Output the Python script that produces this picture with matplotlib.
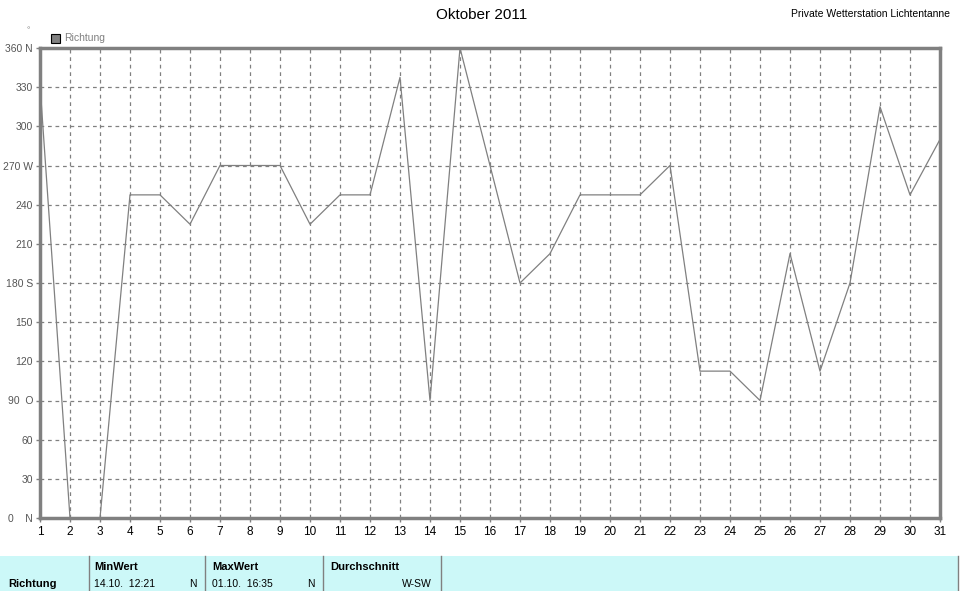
import matplotlib
matplotlib.use("Agg")
import matplotlib.pyplot as plt
import numpy as np

plt.rcParams["font.family"] = ["Liberation Sans", "DejaVu Sans"]

# Daten Oktober 2011 - Windrichtung in Grad
tage = np.arange(1, 32)
richtung = [332, 0, 0, 247.5, 247.5, 225, 270, 270, 270, 225,
            247.5, 247.5, 337.5, 90, 360, 270, 180, 202.5, 247.5, 247.5,
            247.5, 270, 112.5, 112.5, 90, 202.5, 112.5, 180, 315, 247.5, 290]

y_ticks = [0, 30, 60, 90, 120, 150, 180, 210, 240, 270, 300, 330, 360]
y_labels = ["0    N", "30", "60", "90  O", "120", "150", "180 S", "210", "240",
            "270 W", "300", "330", "360 N"]

tabelle_kopf = ["MinWert", "MaxWert", "Durchschnitt"]
tabelle_zeit = ["14.10.  12:21", "01.10.  16:35", ""]
tabelle_wert = ["N", "N", "W-SW"]

grau = "#808080"
W, H = 960, 591

fig = plt.figure(figsize=(9.6, 5.91), dpi=100)
ax = fig.add_axes([40 / W, (H - 518) / H, 900 / W, 470 / H])

ax.plot(tage, richtung, color=grau, lw=0.9)
ax.set_xlim(1, 31)
ax.set_ylim(0, 360)
ax.set_xticks(tage)
ax.set_yticks(y_ticks)
ax.set_yticklabels(y_labels)
ax.tick_params(axis="both", labelsize=7.5, length=3, width=1, pad=2, color=grau)
ax.tick_params(axis="y", labelcolor="#555555")
ax.tick_params(axis="x", labelsize=8.5, pad=3)
ax.grid(True, color=grau, ls=(0, (3, 3)), lw=0.9)
for s in ax.spines.values():
    s.set_color(grau)
    s.set_linewidth(2.5)

fig.text(482 / W, 1 - 15 / H, "Oktober 2011", ha="center", va="center", fontsize=11)
fig.text(950 / W, 1 - 14 / H, "Private Wetterstation Lichtentanne", ha="right",
         va="center", fontsize=7.5)
fig.text(28 / W, 1 - 31 / H, "°", ha="center", va="center", fontsize=6, color=grau)

# Legende
fig.patches.append(plt.Rectangle((51 / W, 1 - 43 / H), 9 / W, 9 / H, transform=fig.transFigure,
                                 facecolor=grau, edgecolor="black", lw=0.8))
fig.text(64 / W, 1 - 38 / H, "Richtung", ha="left", va="center", fontsize=7.5, color=grau)

# Tabelle unten
fig.patches.append(plt.Rectangle((0, 0), 958 / W, (H - 556) / H, transform=fig.transFigure,
                                 facecolor="#ccf8f8", edgecolor="none"))
for xp in [89, 205, 323, 441, 958]:
    fig.add_artist(plt.Line2D([xp / W, xp / W], [0, (H - 556) / H], color=grau, lw=1))
fig.text(8 / W, 1 - 584 / H, "Richtung", ha="left", va="center", fontsize=8, weight="bold")
x0 = [94, 212, 330]
x1 = [197, 315, 432]
for i in range(3):
    fig.text(x0[i] / W, 1 - 567 / H, tabelle_kopf[i], ha="left", va="center",
             fontsize=8, weight="bold")
    fig.text(x0[i] / W, 1 - 584 / H, tabelle_zeit[i], ha="left", va="center", fontsize=7.5)
    fig.text(x1[i] / W, 1 - 584 / H, tabelle_wert[i], ha="right", va="center", fontsize=7.5)

fig.savefig("out.png", dpi=100)
